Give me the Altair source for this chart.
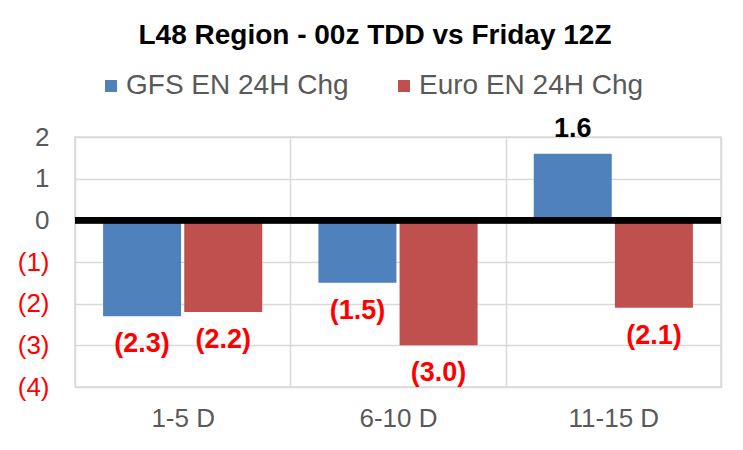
import altair as alt
import pandas as pd

categories = ["1-5 D", "6-10 D", "11-15 D"]
series_names = ["GFS EN 24H Chg", "Euro EN 24H Chg"]
gfs_values = [-2.3, -1.5, 1.6]
euro_values = [-2.2, -3.0, -2.1]
y_ticks = [-4, -3, -2, -1, 0, 1, 2]
colors = ["#4F81BD", "#C0504D"]

rows = []
for c, g, e in zip(categories, gfs_values, euro_values):
    rows.append({"cat": c, "series": series_names[0], "value": g})
    rows.append({"cat": c, "series": series_names[1], "value": e})
df = pd.DataFrame(rows)

FONT = "Liberation Sans"

x = alt.X("cat:N", sort=categories, title=None,
          scale=alt.Scale(paddingInner=0, paddingOuter=0),
          axis=alt.Axis(labelAngle=0, tickBand="extent", grid=True, ticks=False,
                        domain=False, labelFontSize=26, labelColor="#595959",
                        labelFont=FONT, labelPadding=18, gridColor="#D9D9D9",
                        gridWidth=1.5))
xoff = alt.XOffset("series:N", sort=series_names,
                   scale=alt.Scale(paddingInner=0.037, paddingOuter=0.345))
y = alt.Y("value:Q", title=None,
          scale=alt.Scale(domain=[-4, 2], nice=False, zero=False),
          axis=alt.Axis(values=y_ticks, ticks=False, domain=False, grid=True,
                        gridColor="#D9D9D9", gridWidth=1.5, labelFontSize=26,
                        labelFont=FONT, labelPadding=26,
                        labelExpr="datum.value < 0 ? '(' + abs(datum.value) + ')' : datum.label",
                        labelColor=alt.condition("datum.value < 0", alt.value("#FF0000"), alt.value("#595959"))))

color = alt.Color("series:N", sort=series_names,
                  scale=alt.Scale(domain=series_names, range=colors),
                  legend=alt.Legend(title=None, orient="none", direction="horizontal",
                                    legendX=22, legendY=-65, symbolType="square",
                                    symbolSize=144, symbolStrokeWidth=0,
                                    labelFontSize=28, labelFont=FONT, labelLimit=0,
                                    labelColor="#595959", labelOffset=1,
                                    columnPadding=41, padding=0))

base = alt.Chart(df)

bars = base.mark_bar(size=78).encode(x=x, xOffset=xoff, y=y, y2=alt.datum(0), color=color)

labeled = base.transform_calculate(
    lab="datum.value < 0 ? '(' + format(abs(datum.value), '.1f') + ')' : format(datum.value, '.1f')"
)

neg_text = labeled.transform_filter("datum.value < 0").mark_text(
    dy=28, fontSize=27, fontWeight="bold", font=FONT, color="#FF0000", baseline="middle"
).encode(x=x, xOffset=xoff, y=y, text="lab:N")

pos_text = labeled.transform_filter("datum.value >= 0").mark_text(
    dy=-25, fontSize=27, fontWeight="bold", font=FONT, color="#000000", baseline="middle"
).encode(x=x, xOffset=xoff, y=y, text="lab:N")

zero = alt.Chart(df).mark_rule(color="black", strokeWidth=6).encode(y=alt.datum(0))

chart = alt.layer(bars, zero, neg_text, pos_text).properties(
    width=646, height=250,
    title=alt.TitleParams("L48 Region - 00z TDD vs Friday 12Z", fontSize=28,
                          font=FONT, fontWeight="bold", color="#000000",
                          anchor="middle", dx=-23, offset=22),
    autosize=alt.AutoSizeParams(type="none"),
    padding={"left": 67, "top": 129, "right": 14, "bottom": 55},
).configure_view(stroke="#D9D9D9", strokeWidth=1.5)

chart.save("out.html", embed_options={"renderer": "svg", "actions": False})
